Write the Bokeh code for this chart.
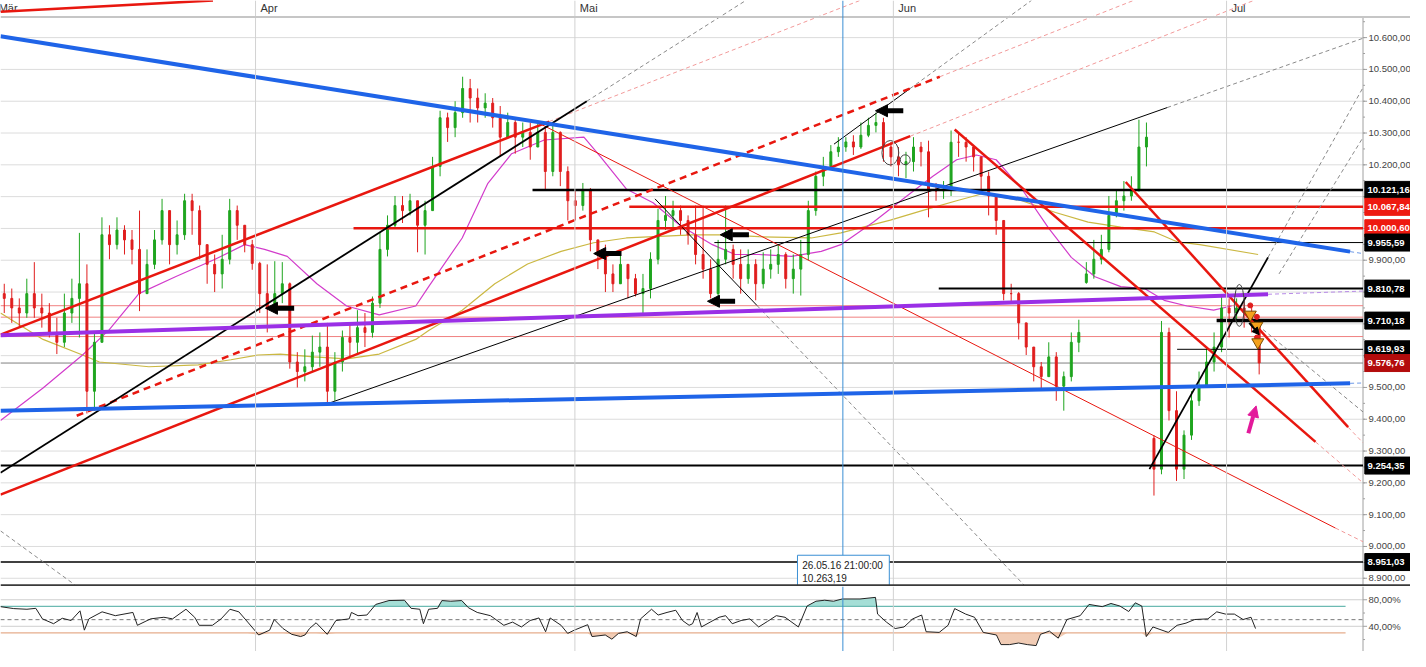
import numpy as np
from bokeh.plotting import figure
from bokeh.models import Range1d, Span, Label, Arrow, NormalHead, BoxAnnotation
from bokeh.layouts import column
from bokeh.embed import file_html
from bokeh.resources import INLINE
from bokeh.core.properties import value

FONT = "Liberation Sans"

# ---------------- data ----------------
months = ["Mär", "Apr", "Mai", "Jun", "Jul"]
month_t = [-0.33, 16.97, 38.22, 59.41, 81.58]          # trading-day index of month start

first_open = 9795
closes = [
    9780, 9750, 9734, 9795, 9750, 9734, 9673, 9642, 9734, 9780,
    9826, 9488, 9642, 9980, 9949, 9995, 9964, 9934, 9795, 9887,
    9964, 10056, 9949, 9980, 10087, 10056, 9949, 9887, 9857, 9903,
    10056, 10010, 9949, 9890, 9795, 9750, 9795, 9826, 9580, 9550,
    9565, 9611, 9627, 9488, 9580, 9657, 9642, 9688, 9673, 9765,
    9934, 10010, 10072, 10056, 10087, 10010, 10056, 10195, 10348, 10317,
    10364, 10440, 10410, 10379, 10394, 10348, 10287, 10333, 10287, 10302,
    10256, 10302, 10179, 10302, 10179, 10087, 10072, 10118, 9964, 9918,
    9857, 9826, 9887, 9842, 9795, 9811, 9903, 10025, 10041, 10056,
    10025, 9980, 9918, 9872, 9795, 9903, 9934, 9887, 9842, 9887,
    9826, 9872, 9887, 9918, 9842, 9872, 9918, 10056, 10164, 10195,
    10241, 10256, 10272, 10256, 10293, 10324, 10333, 10256, 10225, 10200,
    10210, 10256, 10241, 10118, 10118, 10124, 10271, 10271, 10256, 10225,
    10164, 10102, 10025, 9795, 9795, 9703, 9627, 9565, 9534, 9596,
    9504, 9534, 9642, 9673, 9857, 9903, 9934, 10041, 10087, 10102,
    10118, 10256, 10287, 9243, 9673, 9427, 9243, 9350, 9458, 9504,
    9580, 9627, 9750, 9734, 9750, 9734, 9703, 9577]
highs = [
    9826, 9811, 9780, 9842, 9894, 9795, 9765, 9719, 9795, 9842,
    9986, 9887, 9673, 10035, 10010, 10035, 10010, 9995, 10056, 9934,
    9995, 10093, 10056, 10025, 10109, 10109, 10072, 9949, 9918, 9980,
    10093, 10072, 10010, 9964, 9895, 9887, 9897, 9894, 9830, 9611,
    9620, 9663, 9673, 9703, 9611, 9679, 9703, 9743, 9734, 9786,
    9989, 10041, 10102, 10102, 10109, 10087, 10087, 10225, 10370, 10364,
    10400, 10477, 10470, 10440, 10425, 10410, 10385, 10364, 10348, 10333,
    10333, 10333, 10317, 10324, 10305, 10195, 10124, 10143, 10127, 9964,
    9949, 9887, 9918, 9872, 9857, 9857, 9925, 10062, 10102, 10087,
    10072, 10041, 10072, 10072, 9903, 9964, 10072, 9949, 9934, 9934,
    9903, 9925, 9934, 9949, 9925, 9918, 9964, 10087, 10179, 10225,
    10262, 10287, 10287, 10293, 10333, 10348, 10364, 10348, 10272, 10256,
    10241, 10287, 10272, 10276, 10143, 10149, 10308, 10302, 10287, 10256,
    10210, 10179, 10102, 10025, 9826, 9800, 9703, 9627, 9580, 9642,
    9611, 9550, 9673, 9713, 9894, 9964, 9980, 10102, 10118, 10149,
    10164, 10342, 10333, 9350, 9709, 9688, 9488, 9365, 9488, 9550,
    9627, 9673, 9786, 9780, 9780, 9771, 9759, 9710]
lows = [
    9734, 9703, 9688, 9719, 9719, 9688, 9657, 9605, 9627, 9703,
    9657, 9418, 9427, 9642, 9903, 9934, 9918, 9887, 9740, 9795,
    9872, 9949, 9887, 9918, 9964, 9980, 9903, 9826, 9800, 9811,
    9887, 9964, 9925, 9870, 9734, 9673, 9750, 9765, 9559, 9500,
    9519, 9550, 9565, 9448, 9458, 9550, 9596, 9602, 9627, 9657,
    9750, 9912, 10000, 10017, 10041, 9925, 9918, 10056, 10164, 10272,
    10287, 10348, 10333, 10333, 10348, 10317, 10225, 10287, 10235, 10256,
    10216, 10256, 10118, 10164, 10133, 10025, 10025, 10056, 9928, 9872,
    9800, 9800, 9826, 9780, 9786, 9734, 9780, 9887, 9995, 9995,
    9980, 9949, 9887, 9842, 9780, 9780, 9887, 9842, 9795, 9826,
    9774, 9811, 9842, 9857, 9811, 9795, 9789, 9900, 10040, 10133,
    10195, 10225, 10241, 10231, 10250, 10287, 10302, 10210, 10195, 10164,
    10158, 10179, 10195, 10035, 10087, 10093, 10102, 10225, 10210, 10179,
    10124, 10041, 9980, 9774, 9765, 9651, 9602, 9519, 9497, 9534,
    9458, 9427, 9519, 9611, 9826, 9842, 9887, 9925, 10035, 10056,
    10087, 10118, 10195, 9160, 9227, 9396, 9206, 9212, 9335, 9442,
    9504, 9550, 9611, 9657, 9703, 9688, 9673, 9541]
gap_opens = {144: 9830, 153: 9340}

ma_fast = [(0, 9396), (2.83, 9498), (5.46, 9602), (7.24, 9682), (9.21, 9795), (11.64, 9848),
           (14.28, 9903), (16.25, 9949), (17.57, 9934), (19.08, 9912), (21.05, 9826), (23.03, 9756),
           (25.2, 9728), (27.63, 9756), (28.49, 9817), (30.72, 9970), (32.43, 10142), (34.01, 10235),
           (36.18, 10278), (38.82, 10287), (39.93, 10225), (41.64, 10124), (43.42, 10081), (45.2, 10010),
           (47.37, 9949), (48.88, 9918), (50.46, 9918), (52.63, 9912), (54.61, 9928), (55.92, 9949),
           (58.09, 10020), (60.33, 10103), (62.04, 10164), (63.62, 10216), (64.93, 10231), (66.25, 10216),
           (67.96, 10124), (69.74, 10001), (71.25, 9909), (72.83, 9848), (74.54, 9817), (76.12, 9811),
           (77.43, 9774), (78.95, 9756), (80.72, 9743), (81.91, 9756)]
ma_slow = [(0, 9734), (2.83, 9651), (5.46, 9602), (6.58, 9580), (9.87, 9565), (13.16, 9571),
           (15.33, 9587), (17.11, 9602), (18.62, 9605), (20.86, 9596), (23.03, 9590), (25.2, 9605),
           (27.63, 9651), (28.49, 9679), (30.72, 9743), (32.89, 9826), (35.07, 9888), (37.3, 9928),
           (39.47, 9955), (41.64, 9970), (46.05, 9980), (48.22, 9980), (50.46, 9974), (53.95, 9970),
           (55.92, 9986), (59.21, 10026), (61.38, 10057), (63.62, 10087), (65.33, 10109), (67.96, 10087),
           (70.2, 10050), (72.37, 10020), (74.54, 10004), (76.78, 9989), (78.29, 9958), (79.8, 9949),
           (83.68, 9918)]

rsi = [(0, 69.6), (0.88, 66.7), (1.76, 65.7), (2.35, 67.1), (2.79, 51.2), (3.53, 43.9), (4.11, 52.1),
       (4.7, 48.7), (5.29, 63.3), (5.58, 34.2), (5.88, 51.2), (6.76, 61.8), (7.64, 56), (8.81, 60.9),
       (9.11, 41.5), (9.99, 51.2), (10.87, 53.6), (11.45, 51.2), (12.34, 65.7), (12.92, 53.6),
       (13.22, 41.5), (14.1, 41.5), (14.68, 51.2), (15.27, 65.7), (15.86, 61.8), (16.45, 46.3),
       (17.18, 26.9), (17.91, 34.2), (18.21, 50.2), (18.8, 36.6), (19.38, 27.9), (19.97, 24.5),
       (20.26, 26.9), (20.56, 36.6), (21.0, 45.3), (21.74, 27.9), (22.32, 48.7), (23.2, 51.2),
       (23.35, 60.9), (23.79, 56), (24.38, 57), (24.97, 73), (25.85, 78.8), (26.88, 79.3),
       (27.32, 67.1), (27.9, 65.7), (28.14, 43.9), (28.49, 65.7), (29.08, 67.1), (29.37, 78.8),
       (29.96, 77.8), (30.69, 78.8), (31.13, 68.1), (31.72, 60.9), (32.6, 56), (33.49, 41.5),
       (34.07, 46.3), (34.66, 39), (35.24, 48.7), (35.83, 52.6), (36.27, 31.8), (36.57, 52.6),
       (37.3, 41.5), (37.74, 29.3), (38.18, 34.2), (39.07, 42.4), (39.36, 24.5), (40.24, 26.9),
       (40.68, 20.6), (41.12, 29.3), (41.7, 31.8), (42.3, 24.5), (42.59, 51.2), (43.32, 65.7),
       (43.76, 57), (44.35, 60.9), (44.93, 64.2), (45.38, 48.7), (45.82, 41.5),
       (46.05, 43.9), (46.35, 60.8), (46.64, 39), (47.22, 46.3), (47.81, 53.6), (48.25, 56),
       (48.69, 43.9), (49.28, 48.7), (49.86, 51.2), (50.45, 39), (51.03, 47.3), (51.62, 56),
       (52.2, 53.6), (53.09, 39), (53.67, 70.6), (54.26, 77.8), (54.84, 79.3), (55.43, 77.8),
       (56.01, 81.2), (57.19, 81.2), (58.22, 83.6), (58.36, 58.4), (58.95, 46.3), (59.53, 36.6),
       (60.12, 39), (60.7, 51.2), (61.29, 57), (61.59, 31.8), (62.46, 30.8), (63.05, 41.5),
       (63.49, 66.7), (64.22, 58.4), (64.81, 53.6), (65.39, 30.8), (66.27, 26.9), (66.57, 12.4),
       (67.15, 12.4), (67.74, 14.8), (68.32, 12.4), (68.91, 10.9), (69.2, 27.9), (69.79, 32.8),
       (70.38, 22.1), (70.96, 50.2), (71.84, 56), (72.43, 73), (73.31, 69.6), (73.89, 74.4),
       (74.48, 70.6), (75.07, 62.3), (75.51, 75.4), (75.94, 70.6), (76.24, 24.5), (76.68, 39),
       (77.7, 30.8), (78.29, 41.5), (78.88, 44.8), (79.46, 50.2), (80.34, 51.2), (80.93, 61.8),
       (81.51, 58.4), (82.1, 58.4), (82.68, 50.2), (83.21, 53.6), (83.51, 36.6)]
rsi_levels = {"upper": 70, "mid": 50, "lower": 30}
rsi_band_end = 89.5
rsi_ticks = [40, 80]
rsi_minor = [20, 60]

# drawings (t0, price0, t1, price1)
red_thick = [(0, 10681, 14.14, 10717), (0, 9666, 36.51, 10336), (0, 9163, 60.53, 10290),
             (63.49, 10311, 87.5, 9329), (74.87, 10146, 89.67, 9375)]
red_dashed_thick = [(5.07, 9411, 62.5, 10477)]
red_faint_dashed = [(36.51, 10336, 57.2, 10717), (60.53, 10290, 83.4, 10717), (62.5, 10477, 75.4, 10717),
                    (88.82, 9058, 90.66, 9015), (87.5, 9329, 90.66, 9200), (89.67, 9375, 90.66, 9326)]
red_thin = [(35.99, 10327, 88.82, 9058)]
blue_thick = [(0, 10604, 89.8, 9927), (0, 9427, 89.8, 9513)]
blue_faint = [(89.8, 9927, 90.66, 9921), (89.8, 9513, 90.66, 9514)]
purple_thick = [(0, 9664, 84.34, 9793)]
purple_faint = [(84.34, 9793, 90.66, 9803)]
black_thick = [(0, 9232, 39.01, 10400), (76.45, 9243, 84.34, 9909)]
black_thin = [(21.71, 9448, 77.63, 10380), (43.55, 10093, 50.33, 9758), (55.46, 10265, 60.53, 10440)]
gray_dashed = [(39.01, 10400, 49.6, 10717), (77.63, 10380, 90.66, 10598), (50.33, 9758, 68.2, 8874),
               (0, 9049, 4.93, 8880), (60.53, 10440, 68.6, 10717), (84.34, 9909, 90.66, 10443),
               (85.07, 9857, 90.66, 10286), (84.01, 9682, 90.66, 9423)]

# horizontal levels: (price, start_t, colour, width)
levels = [(10121.16, 35.4, "black", 2.5), (10067.84, 41.84, "#e8170f", 2.5),
          (10000.60, 23.49, "#e8170f", 2.5), (9955.59, 47.5, "black", 1),
          (9810.78, 62.43, "black", 2), (9710.18, 80.92, "black", 3.5),
          (9619.93, 78.29, "black", 1), (9254.35, 0, "black", 2), (8951.03, 0, "black", 1.5)]
thin_red_levels = [9757, 9721, 9660]
last_price = 9576.76
tags = [(10121.16, "black"), (10067.84, "#ee1a10"), (10000.60, "#ee1a10"), (9955.59, "black"),
        (9810.78, "black"), (9710.18, "black"), (9619.93, "black"), (9576.76, "#b30c0c"),
        (9254.35, "black"), (8951.03, "black")]

arrows_left = [(19.54, 17.63, 9749), (41.32, 39.47, 9921), (49.8, 47.89, 9980),
               (48.88, 47.04, 9771), (60.07, 58.22, 10370)]
ellipses = [(59.21, 10238, 1.12, 77), (60.2, 10216, 0.66, 31), (82.43, 9758, 0.66, 132)]
sell_marks = [(83.16, 9729), (83.6, 9694), (83.66, 9642)]
red_dots = [(83.16, 9758), (83.6, 9722), (83.6, 9657)]
cross_t = 56.05
tooltip_lines = ["26.05.16 21:00:00", "10.263,19"]

price_ticks = list(range(8900, 10601, 100))
price_minor = list(range(8850, 10651, 50))

# ---------------- helpers ----------------
def de(v):
    return f"{v:,.2f}".replace(",", "X").replace(".", ",").replace("X", ".")

X0, X1 = 0, 93.82          # full canvas width incl. the price scale strip
AX = 90.66                 # position of the price scale line
TICK = 0.27                # 4 px
P_BOT, P_TOP = 8874.1, 10716.7
HEADER = 10664.5
W = 1410

def seg(fig, rows, **kw):
    fig.segment(x0=[r[0] for r in rows], y0=[r[1] for r in rows],
                x1=[r[2] for r in rows], y1=[r[3] for r in rows], **kw)

def base_fig(h, yr):
    f = figure(frame_width=W, frame_height=h, x_range=Range1d(X0, X1), y_range=yr,
               output_backend="svg", toolbar_location=None, x_axis_location=None, y_axis_location=None,
               min_border_left=0, min_border_top=0, min_border_bottom=0, min_border_right=0)
    f.outline_line_color = None
    f.background_fill_color = "white"
    f.border_fill_color = "white"
    f.xgrid.visible = False
    f.ygrid.visible = False
    return f

# ---------------- main price panel ----------------
p = base_fig(586, Range1d(P_BOT, P_TOP))

# grid
p.segment(x0=[X0] * len(price_ticks), y0=price_ticks, x1=[AX] * len(price_ticks), y1=price_ticks,
          line_color="#dcdcdc", line_width=1)
for t in month_t:
    p.add_layout(Span(location=t, dimension="height", line_color="#d2d2d2", line_width=1))
p.add_layout(Span(location=HEADER, dimension="width", line_color="#c6c6c6", line_width=2))
p.text(x=[t + 0.33 if t > 0 else -0.12 for t in month_t], y=[10692] * len(months), text=months,
       text_font=value(FONT), text_font_size="11px", text_color="#333333",
       text_baseline="middle", text_align="left")

# price scale
p.segment(x0=[AX], y0=[P_BOT], x1=[AX], y1=[HEADER], line_color="#a0a0a0", line_width=1)
p.segment(x0=[AX] * len(price_ticks), y0=price_ticks, x1=[AX + TICK] * len(price_ticks), y1=price_ticks,
          line_color="#a0a0a0", line_width=1)
p.segment(x0=[AX] * len(price_minor), y0=price_minor, x1=[AX + TICK / 2] * len(price_minor), y1=price_minor,
          line_color="#a0a0a0", line_width=1)
p.text(x=[AX + 0.36] * len(price_ticks), y=price_ticks, text=[de(t) for t in price_ticks],
       text_font=value(FONT), text_font_size="9.5px", text_color="#444444",
       text_baseline="middle", text_align="left")

# thin level lines
p.segment(x0=[X0] * len(thin_red_levels), y0=thin_red_levels, x1=[AX] * len(thin_red_levels),
          y1=thin_red_levels, line_color="#f08080", line_width=1)
p.segment(x0=[X0], y0=[last_price], x1=[AX], y1=[last_price], line_color="#808080", line_width=1)

# moving averages
p.line([a for a, b in ma_slow], [b for a, b in ma_slow], line_color="#cbb842", line_width=1.2)
p.line([a for a, b in ma_fast], [b for a, b in ma_fast], line_color="#d23ccb", line_width=1.2)

# candles
n = len(closes)
opens = [first_open] + closes[:-1]
for k, v in gap_opens.items():
    opens[k] = v
t_bar = [0.25 + 0.5 * i for i in range(n)]
col = ["#1fa51f" if c > o else "#e01e1e" for o, c in zip(opens, closes)]
hi = [max(h, o, c) for h, o, c in zip(highs, opens, closes)]
lo = [min(l, o, c) for l, o, c in zip(lows, opens, closes)]
p.segment(x0=t_bar, y0=lo, x1=t_bar, y1=hi, line_color=col, line_width=1)
p.vbar(x=t_bar, width=0.13, top=[max(o, c) for o, c in zip(opens, closes)],
       bottom=[min(o, c) for o, c in zip(opens, closes)], fill_color=col, line_color=col, line_width=1)

# horizontal levels
for price, t0, c, w in levels:
    p.segment(x0=[t0], y0=[price], x1=[AX], y1=[price], line_color=c, line_width=w)

# trend lines
seg(p, gray_dashed, line_color="#8a8a8a", line_width=1, line_dash="4 3")
seg(p, red_faint_dashed, line_color="#f29a9a", line_width=1, line_dash="4 3")
seg(p, blue_faint, line_color="#6f9be8", line_width=1, line_dash="4 3")
seg(p, purple_faint, line_color="#b88be8", line_width=1, line_dash="4 3")
seg(p, red_thin, line_color="#e8170f", line_width=1)
seg(p, black_thin, line_color="black", line_width=1)
seg(p, red_thick, line_color="#e8170f", line_width=2.5)
seg(p, red_dashed_thick, line_color="#e8170f", line_width=2.5, line_dash="7 5")
seg(p, black_thick, line_color="black", line_width=1.8)
seg(p, purple_thick, line_color="#9a2fe6", line_width=4)
seg(p, blue_thick, line_color="#1f64e8", line_width=4)

# annotations
p.ellipse(x=[e[0] for e in ellipses], y=[e[1] for e in ellipses], width=[e[2] for e in ellipses],
          height=[e[3] for e in ellipses], fill_color=None, line_color="#444444", line_width=1)
for ts, te, pr in arrows_left:
    p.add_layout(Arrow(end=NormalHead(size=12, fill_color="black", line_color="black"),
                       x_start=ts, y_start=pr, x_end=te, y_end=pr, line_color="black", line_width=5))
p.add_layout(Arrow(end=NormalHead(size=7, fill_color="black", line_color="black"),
                   x_start=83.09, y_start=9703, x_end=83.75, y_end=9666, line_color="black", line_width=2))
p.add_layout(Arrow(end=NormalHead(size=11, fill_color="#e3199b", line_color="#e3199b"),
                   x_start=83.03, y_start=9356, x_end=83.55, y_end=9442, line_color="#e3199b", line_width=4))
p.scatter([a for a, b in red_dots], [b for a, b in red_dots], size=5, color="#e01e1e")
p.scatter([a for a, b in sell_marks], [b for a, b in sell_marks], marker="inverted_triangle", size=12,
          fill_color="#f5a11c", line_color="#7a4c00", line_width=1)

# price tags on the scale
tag_p = [a for a, b in tags]
tag_c = [b for a, b in tags]
p.rect(x=[(AX + 0.12 + X1) / 2] * len(tags), y=tag_p, width=[X1 - AX - 0.12] * len(tags), height=17,
       height_units="screen", fill_color=tag_c, line_color=tag_c, line_width=1)
p.text(x=[AX + 0.3] * len(tags), y=tag_p, text=[de(v) for v in tag_p], text_font=value(FONT),
       text_font_size="9.5px", text_font_style="bold", text_color="white",
       text_baseline="middle", text_align="left")

p.add_layout(Span(location=cross_t, dimension="height", line_color="#3a8fd4", line_width=1))
p.add_layout(BoxAnnotation(left=53.03, right=59.14, bottom=P_BOT, top=8972.4, fill_color="white",
                           fill_alpha=1, line_color="#3a8fd4", line_width=1, line_alpha=1))
for txt, yy in zip(tooltip_lines, [8941.5, 8902]):
    p.add_layout(Label(x=53.35, y=yy, text=txt, text_font=FONT, text_font_size="10px",
                       text_color="#222222", text_baseline="middle", text_align="left"))
p.add_layout(Span(location=P_BOT + 2, dimension="width", line_color="#3a3a3a", line_width=3))

# ---------------- RSI panel ----------------
r = base_fig(65, Range1d(2, 100))
r.x_range = p.x_range
r.segment(x0=[X0] * 2, y0=rsi_ticks, x1=[AX] * 2, y1=rsi_ticks, line_color="#cfcfcf", line_width=1)
for t in month_t:
    r.add_layout(Span(location=t, dimension="height", line_color="#d2d2d2", line_width=1))
r.segment(x0=[AX], y0=[2], x1=[AX], y1=[100], line_color="#a0a0a0", line_width=1)
r.segment(x0=[AX] * 2, y0=rsi_ticks, x1=[AX + TICK] * 2, y1=rsi_ticks, line_color="#a0a0a0", line_width=1)
r.segment(x0=[AX] * 2, y0=rsi_minor, x1=[AX + TICK / 2] * 2, y1=rsi_minor, line_color="#a0a0a0", line_width=1)
r.text(x=[AX + 0.36] * 2, y=rsi_ticks, text=[f"{v},00%" for v in rsi_ticks], text_font=value(FONT),
       text_font_size="9.5px", text_color="#444444", text_baseline="middle", text_align="left")

rt = np.array([a for a, b in rsi])
rv = np.array([b for a, b in rsi])
up, mid, lowl = rsi_levels["upper"], rsi_levels["mid"], rsi_levels["lower"]
r.varea(x=rt, y1=np.full(len(rv), up), y2=np.maximum(rv, up), fill_color="#9bdad2", fill_alpha=0.9)
r.varea(x=rt, y1=np.minimum(rv, lowl), y2=np.full(len(rv), lowl), fill_color="#efc6ad", fill_alpha=0.9)
r.segment(x0=[X0, X0], y0=[up, lowl], x1=[rsi_band_end] * 2, y1=[up, lowl],
          line_color=["#6cbab2", "#e6ad8c"], line_width=1.3)
r.segment(x0=[X0], y0=[mid], x1=[AX], y1=[mid], line_color="#777777", line_width=1, line_dash="4 3")
r.line(rt, rv, line_color="#222222", line_width=1)
r.add_layout(Span(location=cross_t, dimension="height", line_color="#3a8fd4", line_width=1))

layout = column(p, r, spacing=0)
open("out.html", "w").write(file_html(layout, INLINE))
